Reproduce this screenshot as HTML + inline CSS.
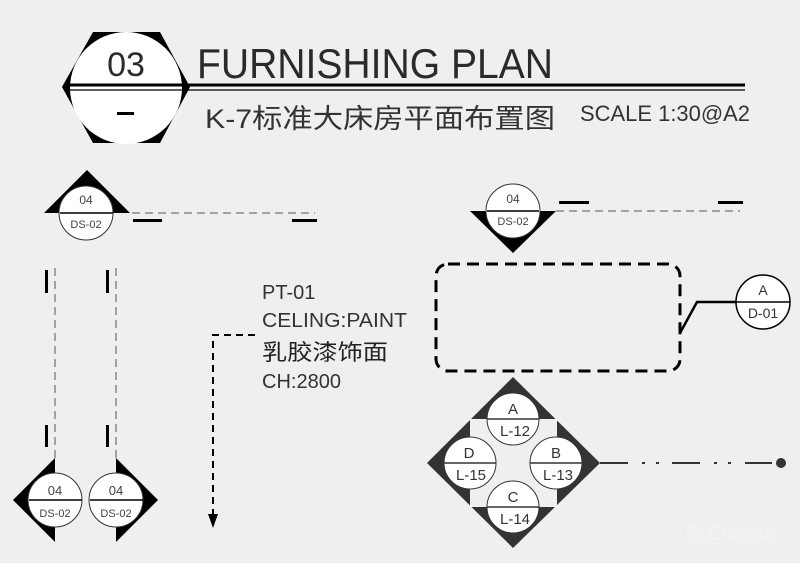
<!DOCTYPE html>
<html><head><meta charset="utf-8"><style>
html,body{margin:0;padding:0;background:#efefef;}
svg{display:block;font-family:"Liberation Sans","Noto Sans CJK SC",sans-serif;}
</style></head><body>
<svg width="800" height="563" viewBox="0 0 800 563" xmlns="http://www.w3.org/2000/svg">
<rect width="800" height="563" fill="#efefef"/>
<!-- header -->
<polygon points="93,32 160,32 190,87 160,143 93,143 62,87" fill="#000"/>
<circle cx="126" cy="88" r="56" fill="#fff"/>
<line x1="66" y1="85" x2="745" y2="85" stroke="#000" stroke-width="3"/>
<line x1="66" y1="90" x2="745" y2="90" stroke="#000" stroke-width="1.2"/>
<text x="126" y="76" font-size="34" text-anchor="middle" fill="#2a2a2a">03</text>
<rect x="117" y="112" width="17" height="3" fill="#000"/>
<text x="197" y="78" font-size="42" textLength="356" lengthAdjust="spacingAndGlyphs" fill="#2a2a2a">FURNISHING PLAN</text>
<text x="205" y="128" font-size="27" textLength="350" lengthAdjust="spacingAndGlyphs" fill="#333">K-7标准大床房平面布置图</text>
<text x="580" y="121" font-size="22" textLength="170" lengthAdjust="spacingAndGlyphs" fill="#333">SCALE 1:30@A2</text>

<!-- top-left section -->
<polygon points="87,170 44,213 130,213" fill="#000"/>
<circle cx="86" cy="213" r="27" fill="#fff" stroke="#333" stroke-width="1"/>
<line x1="60" y1="213" x2="113" y2="213" stroke="#000" stroke-width="1.5"/>
<text x="86" y="204" font-size="12" text-anchor="middle" fill="#444">04</text>
<text x="86" y="228" font-size="11" text-anchor="middle" fill="#444">DS-02</text>
<line x1="132" y1="213" x2="315" y2="213" stroke="#888" stroke-width="1.5" stroke-dasharray="8,5"/>
<rect x="133" y="219" width="29" height="3" fill="#000"/>
<rect x="292" y="219" width="25" height="3" fill="#000"/>

<!-- left verticals -->
<line x1="55" y1="268" x2="55" y2="458" stroke="#888" stroke-width="1.5" stroke-dasharray="8,5"/>
<line x1="116" y1="268" x2="116" y2="458" stroke="#888" stroke-width="1.5" stroke-dasharray="8,5"/>
<rect x="45" y="270" width="3" height="23" fill="#000"/>
<rect x="106" y="270" width="3" height="23" fill="#000"/>
<rect x="45" y="425" width="3" height="22" fill="#000"/>
<rect x="106" y="425" width="3" height="22" fill="#000"/>
<polygon points="55,458 13,500 55,542" fill="#000"/>
<polygon points="116,458 158,500 116,542" fill="#000"/>
<circle cx="55" cy="500" r="27" fill="#fff" stroke="#333" stroke-width="1"/>
<line x1="29" y1="500" x2="82" y2="500" stroke="#000" stroke-width="1.5"/>
<text x="55" y="495" font-size="13" text-anchor="middle" fill="#444">04</text>
<text x="55" y="517" font-size="11" text-anchor="middle" fill="#444">DS-02</text>
<circle cx="116" cy="500" r="27" fill="#fff" stroke="#333" stroke-width="1"/>
<line x1="90" y1="500" x2="143" y2="500" stroke="#000" stroke-width="1.5"/>
<text x="116" y="495" font-size="13" text-anchor="middle" fill="#444">04</text>
<text x="116" y="517" font-size="11" text-anchor="middle" fill="#444">DS-02</text>

<!-- PT text + leader -->
<text x="262" y="299" font-size="20" fill="#333">PT-01</text>
<text x="262" y="327" font-size="20" textLength="145" lengthAdjust="spacingAndGlyphs" fill="#333">CELING:PAINT</text>
<text x="262" y="360" font-size="22" textLength="126" lengthAdjust="spacingAndGlyphs" fill="#222">乳胶漆饰面</text>
<text x="262" y="388" font-size="20" fill="#333">CH:2800</text>
<polyline points="255,335 213,335 213,515" fill="none" stroke="#000" stroke-width="2" stroke-dasharray="7,5"/>
<polygon points="208,514 218,514 213,528" fill="#000"/>

<!-- right top section -->
<polygon points="470,211 556,211 513,253" fill="#000"/>
<circle cx="513" cy="211" r="27" fill="#fff" stroke="#333" stroke-width="1"/>
<line x1="487" y1="211" x2="539" y2="211" stroke="#000" stroke-width="1.5"/>
<text x="513" y="203" font-size="12" text-anchor="middle" fill="#444">04</text>
<text x="513" y="225" font-size="11" text-anchor="middle" fill="#444">DS-02</text>
<line x1="556" y1="211" x2="740" y2="211" stroke="#888" stroke-width="1.5" stroke-dasharray="8,5"/>
<rect x="559" y="201" width="30" height="3" fill="#000"/>
<rect x="718" y="201" width="25" height="3" fill="#000"/>

<!-- dashed rounded rect -->
<rect x="436" y="264" width="244" height="107" rx="12" fill="none" stroke="#000" stroke-width="3" stroke-dasharray="12,7"/>
<polyline points="680,333 697,302 737,302" fill="none" stroke="#000" stroke-width="2.5"/>
<circle cx="763" cy="302" r="27" fill="#fff" stroke="#000" stroke-width="1.5"/>
<line x1="736" y1="302" x2="790" y2="302" stroke="#000" stroke-width="1.5"/>
<text x="763" y="295" font-size="14" text-anchor="middle" fill="#333">A</text>
<text x="763" y="318" font-size="14" text-anchor="middle" fill="#333">D-01</text>

<!-- diamond -->
<polygon points="513,377 600,463 513,548 427,463" fill="#333"/>
<rect x="470" y="419" width="87" height="88" fill="#efefef"/>
<g font-size="15" text-anchor="middle" fill="#333">
<circle cx="513" cy="419" r="26" fill="#fff" stroke="#333"/><line x1="487" y1="419" x2="539" y2="419" stroke="#333" stroke-width="1.5"/>
<text x="513" y="414">A</text><text x="515" y="436">L-12</text>
<circle cx="556" cy="463" r="26" fill="#fff" stroke="#333"/><line x1="530" y1="463" x2="582" y2="463" stroke="#333" stroke-width="1.5"/>
<text x="556" y="458">B</text><text x="558" y="480">L-13</text>
<circle cx="470" cy="463" r="26" fill="#fff" stroke="#333"/><line x1="444" y1="463" x2="496" y2="463" stroke="#333" stroke-width="1.5"/>
<text x="469" y="458">D</text><text x="471" y="480">L-15</text>
<circle cx="513" cy="507" r="26" fill="#fff" stroke="#333"/><line x1="487" y1="507" x2="539" y2="507" stroke="#333" stroke-width="1.5"/>
<text x="513" y="502">C</text><text x="515" y="524">L-14</text>
</g>
<g stroke="#333" stroke-width="2">
<line x1="600" y1="463" x2="628" y2="463"/>
<line x1="642" y1="463" x2="645" y2="463"/>
<line x1="656" y1="463" x2="659" y2="463"/>
<line x1="672" y1="463" x2="700" y2="463"/>
<line x1="714" y1="463" x2="717" y2="463"/>
<line x1="728" y1="463" x2="731" y2="463"/>
<line x1="745" y1="463" x2="772" y2="463"/>
</g>
<circle cx="781" cy="463" r="5" fill="#333"/>
<text x="685" y="540" font-size="20" fill="#f3f3f3">51Cheese</text>
</svg>
</body></html>
